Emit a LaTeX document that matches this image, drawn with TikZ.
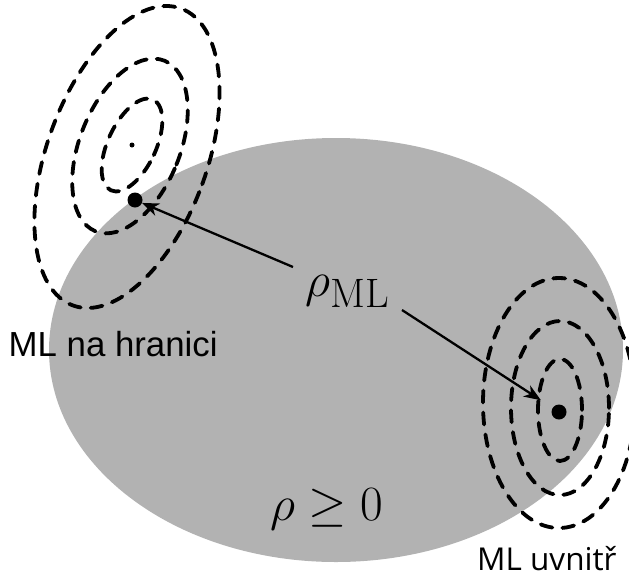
\documentclass[tikz,border=0pt]{standalone}
\usepackage{fontspec}
\newfontfamily\arialf{Liberation Sans}
\newfontfamily\opensans{Open Sans}
\usetikzlibrary{arrows.meta}
\tikzset{
  contour/.style={line width=3.8pt, dash pattern=on 12pt off 10pt, line cap=round},
  bigdot/.style={circle, fill=black, inner sep=0pt, outer sep=0pt, minimum size=15pt},
  smalldot/.style={circle, fill=black, inner sep=0pt, minimum size=5pt},
  arr/.style={line width=2.3pt, -{Stealth[length=17pt,width=13pt,inset=5pt]}},
  mathlbl/.style={inner sep=0pt, anchor=base west, font=\Huge, scale=1.98},
}
\begin{document}
\begin{tikzpicture}[x=1pt,y=-1pt]
\useasboundingbox (0,0) rectangle (629,576);
\begin{scope}
\clip (0,0) rectangle (629,576);
% feasible region
\fill[black!30] (336,350) ellipse [x radius=287pt, y radius=212pt];
% left contours
\node[smalldot] (cL) at (132,145) {};
\draw[contour, rotate around={-25:(132,145)}] (132,145) ellipse [x radius=24pt, y radius=50pt];
\draw[contour, rotate around={-22:(130,146)}] (130,146) ellipse [x radius=50pt, y radius=92pt];
\draw[contour, rotate around={-20:(127,157)}] (127,157) ellipse [x radius=80pt, y radius=158pt];
\node[bigdot] (dL) at (135,200) {};
% right contours
\draw[contour] (560,410) ellipse [x radius=22pt, y radius=51pt];
\draw[contour] (560,408) ellipse [x radius=49pt, y radius=87pt];
\draw[contour] (559,403) ellipse [x radius=76pt, y radius=125pt];
\node[bigdot] (dR) at (559,412) {};
\end{scope}
% labels
\node[mathlbl] (rml) at (305,296) {$\rho_{\mathrm{ML}}$};
\node[mathlbl] (rge) at (270,520) {$\rho \geq 0$};
\node[inner sep=0pt, anchor=base west, font=\arialf\fontsize{34.8}{40}\selectfont] (lnh) at (8.5,356) {ML na hranici};
\node[inner sep=0pt, anchor=base west, font=\opensans\fontsize{31.5}{38}\selectfont] (luv) at (477,570) {ML uvnitř};
% arrows
\coordinate (aLs) at (293,267);
\coordinate (aRs) at (402,310);
\draw[arr] (aLs) -- (dL);
\draw[arr, shorten >=14pt] (aRs) -- (dR);
\end{tikzpicture}
\end{document}
